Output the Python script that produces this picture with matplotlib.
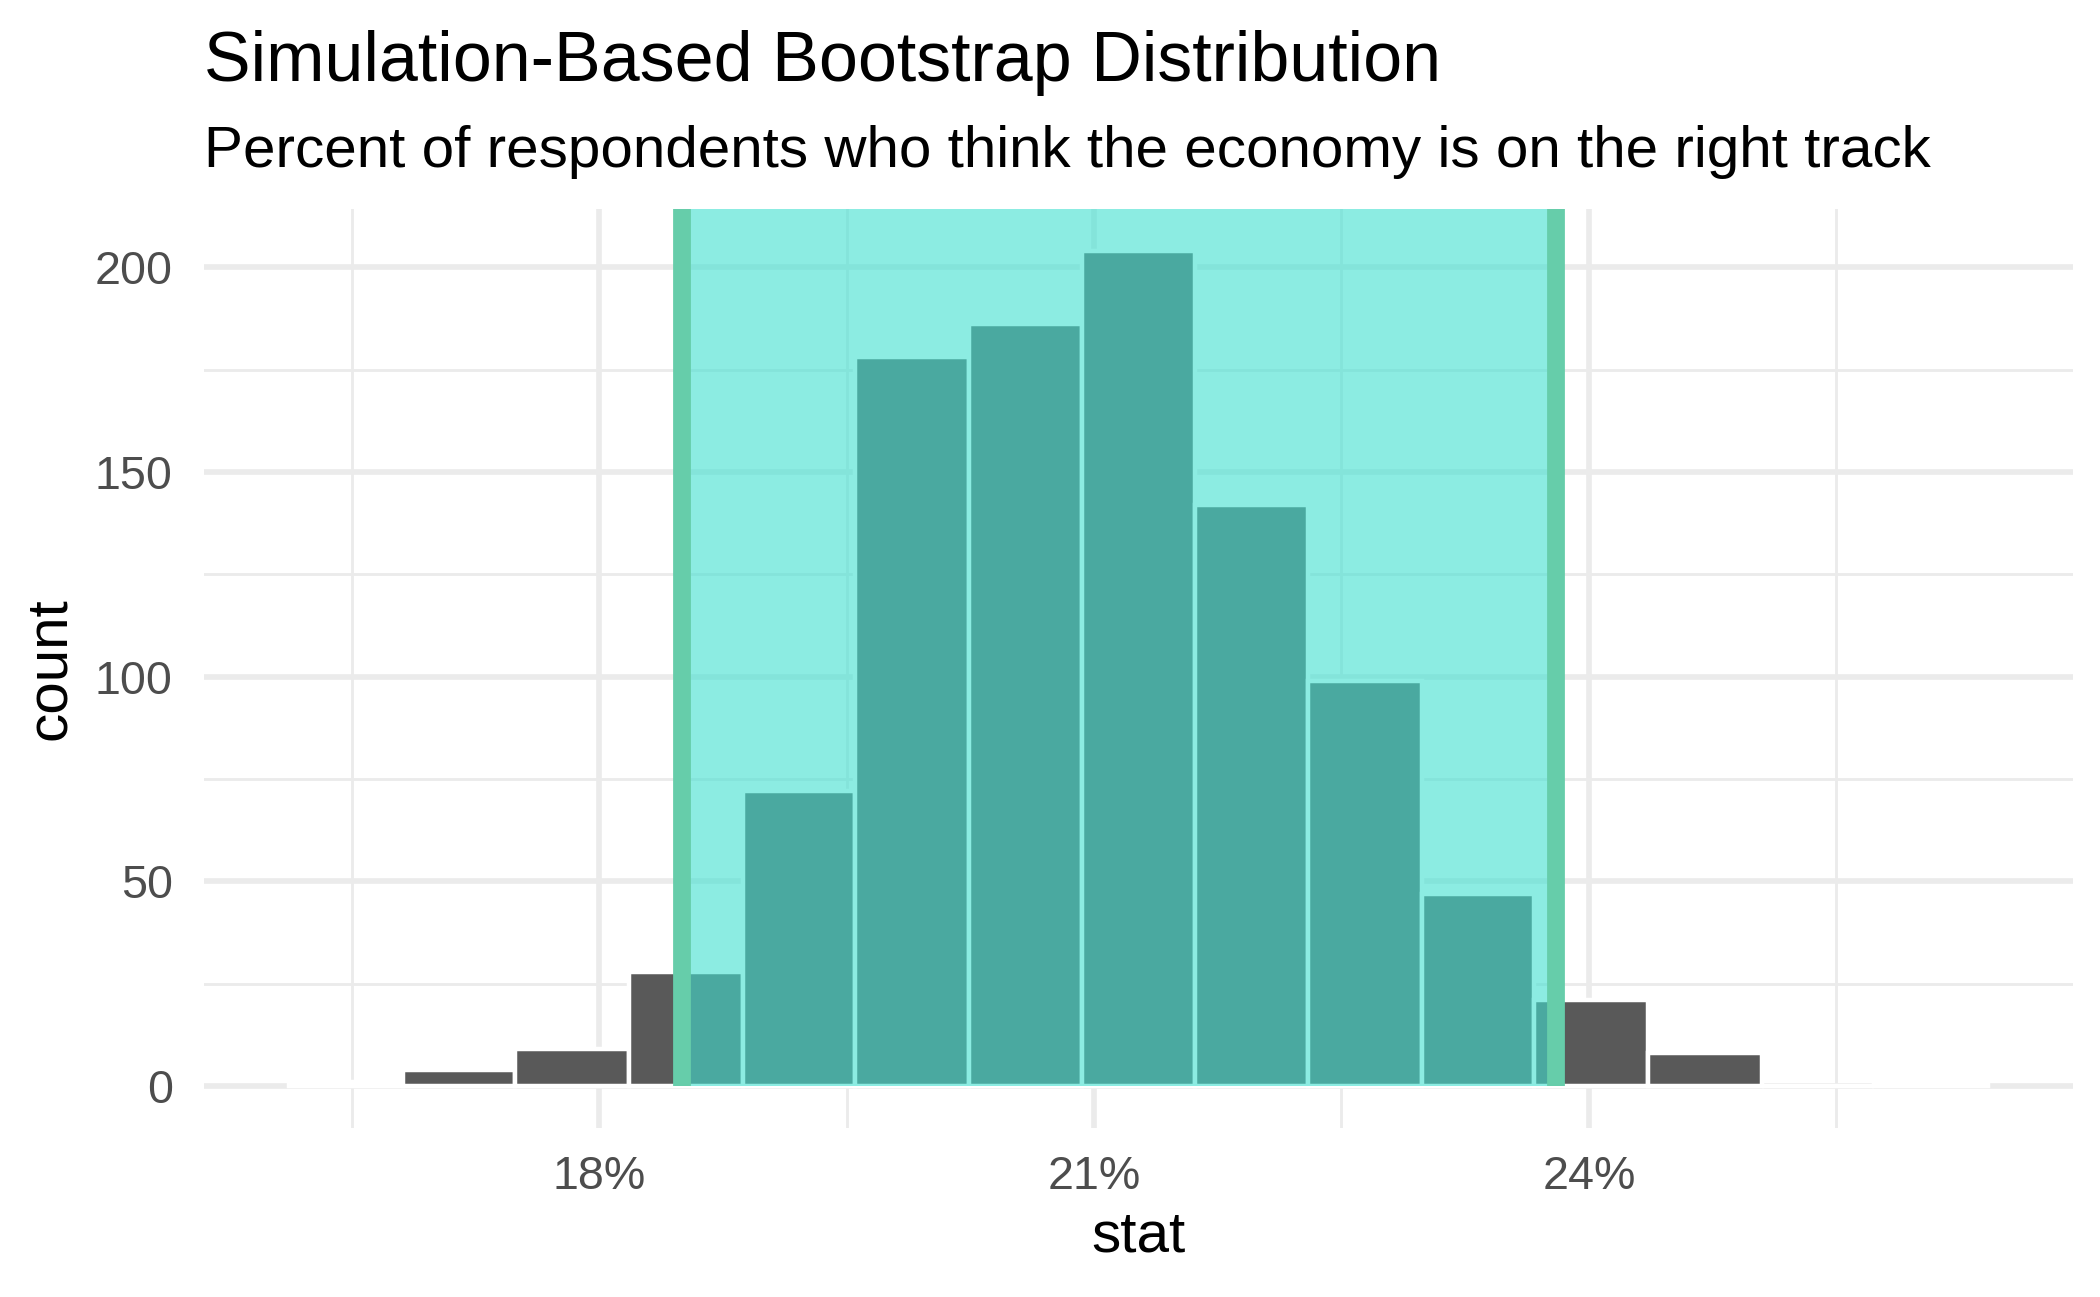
import matplotlib
matplotlib.use("Agg")
import matplotlib.pyplot as plt
from matplotlib.ticker import FixedLocator, FuncFormatter

plt.rcParams['font.family'] = ['Liberation Sans', 'DejaVu Sans']

# bootstrap histogram (stat in %), 15 bins
bin_edges = [16.12, 16.81, 17.49, 18.18, 18.87, 19.55, 20.24, 20.93,
             21.61, 22.30, 22.99, 23.67, 24.36, 25.05, 25.73, 26.42]
counts = [1, 4, 9, 28, 72, 178, 186, 204, 142, 99, 47, 21, 8, 0, 1]

# confidence interval endpoints (%)
ci_low = 18.50
ci_high = 23.80

x_major = [18, 21, 24]
x_minor = [16.5, 19.5, 22.5, 25.5]
y_major = [0, 50, 100, 150, 200]
y_minor = [25, 75, 125, 175]

title = "Simulation-Based Bootstrap Distribution"
subtitle = "Percent of respondents who think the economy is on the right track"

W, H = 2100, 1297
fig = plt.figure(figsize=(W / 300, H / 300), dpi=300)
left, right, top, bottom = 204, 2073, 209, 1128
ax = fig.add_axes([left / W, 1 - bottom / H, (right - left) / W, (bottom - top) / H])

widths = [b - a for a, b in zip(bin_edges[:-1], bin_edges[1:])]
ax.bar(bin_edges[:-1], counts, width=widths, align='edge', color='#595959',
       edgecolor='white', linewidth=1.07, zorder=2)

# limits with 5% expansion like ggplot
xr = bin_edges[-1] - bin_edges[0]
ax.set_xlim(bin_edges[0] - 0.05 * xr, bin_edges[-1] + 0.05 * xr)
ymax = max(counts)
ax.set_ylim(-0.05 * ymax, ymax * 1.05)
ytop = ax.get_ylim()[1]

ax.fill_between([ci_low, ci_high], 0, ytop, color='#40E0D0', alpha=0.6,
                linewidth=0, zorder=3)
ax.vlines([ci_low, ci_high], 0, ytop, color='#66CDAA', linewidth=4.27, zorder=4)

ax.xaxis.set_major_locator(FixedLocator(x_major))
ax.xaxis.set_minor_locator(FixedLocator(x_minor))
ax.yaxis.set_major_locator(FixedLocator(y_major))
ax.yaxis.set_minor_locator(FixedLocator(y_minor))
ax.xaxis.set_major_formatter(FuncFormatter(lambda v, p: f"{v:.0f}%"))

ax.grid(which='major', color='#EBEBEB', linewidth=1.35, zorder=0)
ax.grid(which='minor', color='#EBEBEB', linewidth=0.68, zorder=0)
ax.set_axisbelow(True)
for s in ax.spines.values():
    s.set_visible(False)

ax.tick_params(which='both', length=0)
ax.tick_params(axis='x', labelsize=11.2, labelcolor='#4D4D4D', pad=6.5)
ax.tick_params(axis='y', labelsize=11.2, labelcolor='#4D4D4D', pad=7.5)

ax.set_xlabel("stat", fontsize=14, labelpad=2.6)
ax.set_ylabel("count", fontsize=14, labelpad=4.3)

fig.text(left / W, 1 - 81 / H, title, fontsize=16.8, va='baseline', ha='left')
fig.text(left / W, 1 - 167 / H, subtitle, fontsize=14, va='baseline', ha='left')

fig.savefig("out.png", dpi=300)
